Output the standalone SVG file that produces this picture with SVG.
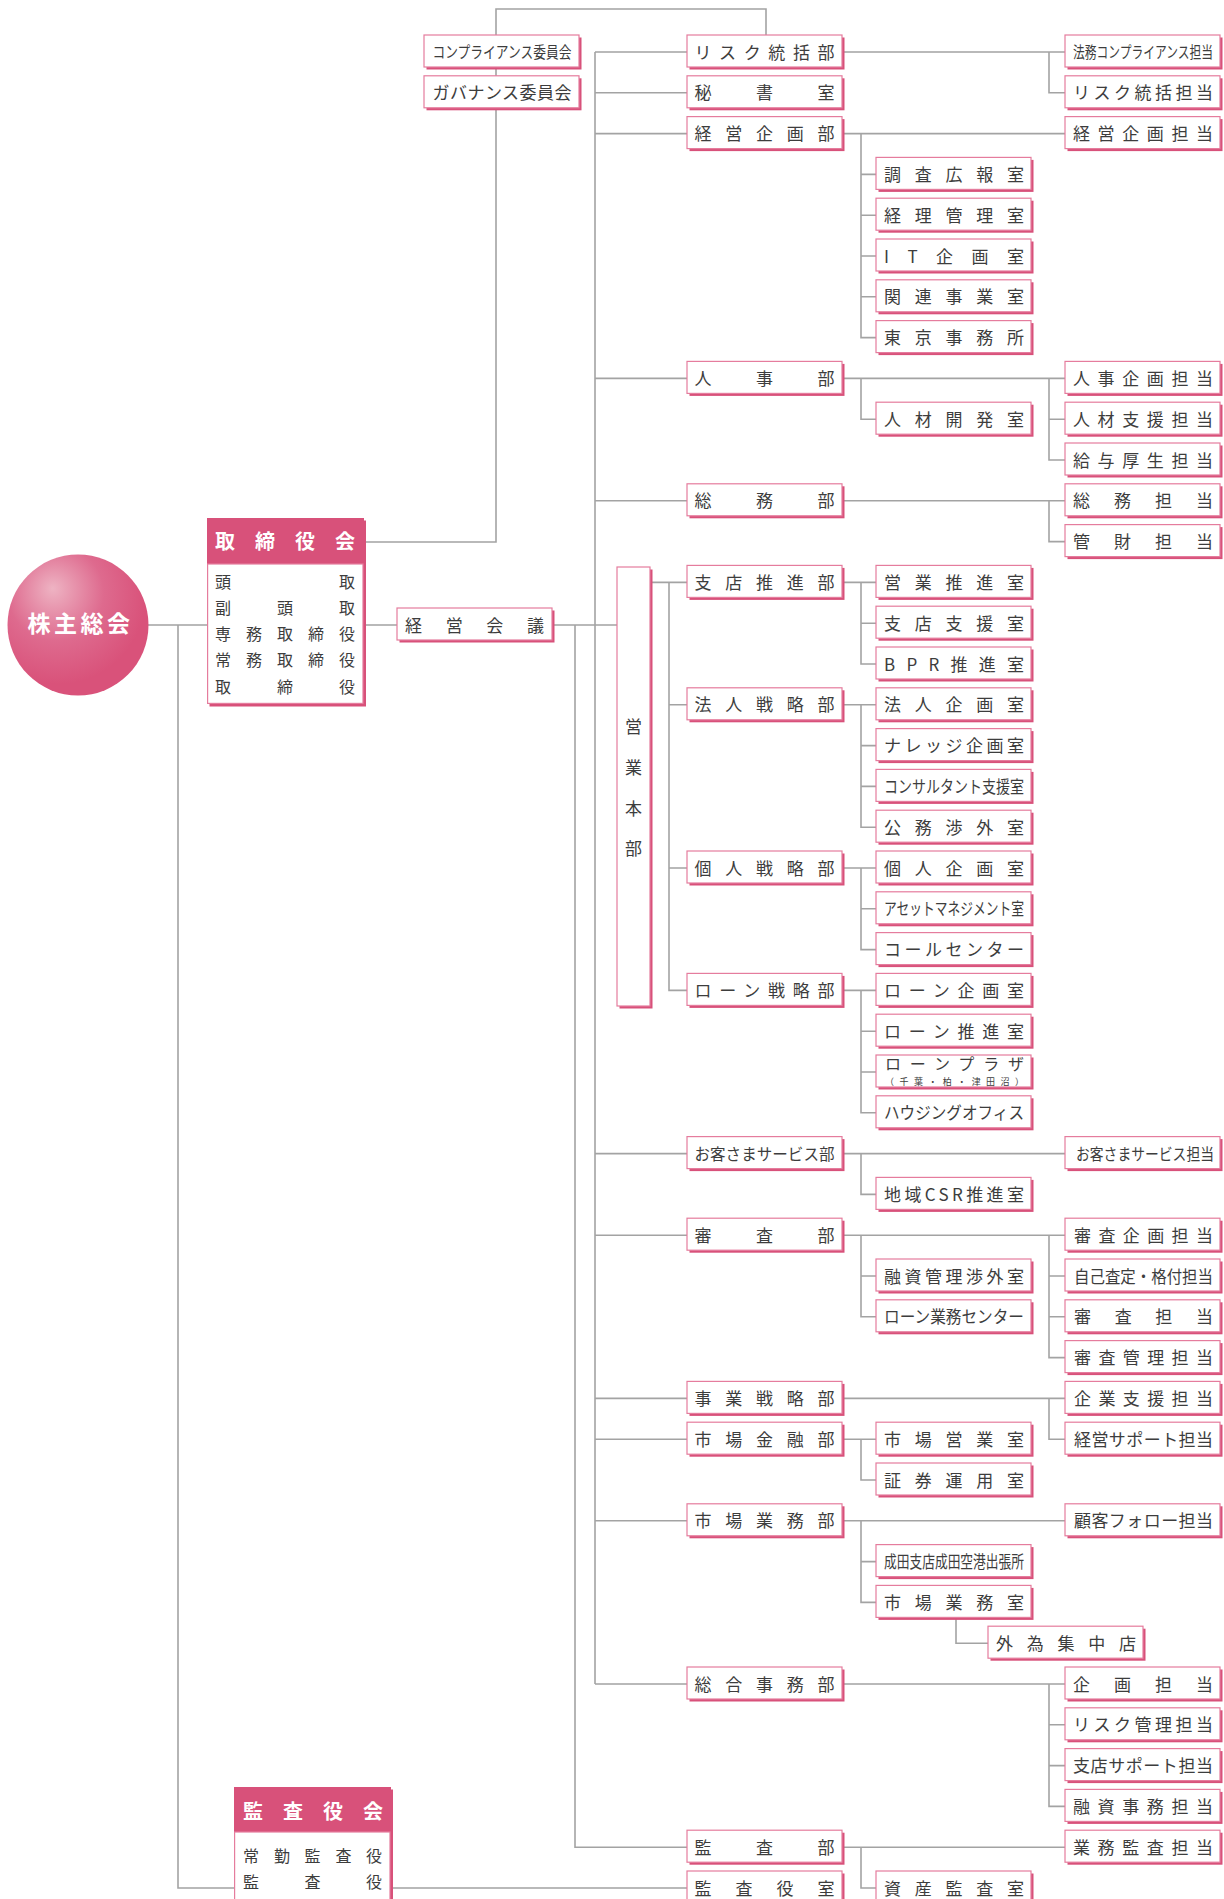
<svg xmlns="http://www.w3.org/2000/svg" xmlns:xlink="http://www.w3.org/1999/xlink" width="1224" height="1899" viewBox="0 0 1224 1899">
<style>
.ln{fill:none;stroke:#a3a3a3;stroke-width:1.6}
.t{font-family:"Noto Sans CJK JP","Noto Sans CJK SC",sans-serif;font-size:17px;fill:#3d3d3d}
.s{font-family:"Noto Sans CJK JP","Noto Sans CJK SC",sans-serif;font-size:16px;fill:#3d3d3d}
.h{font-family:"Noto Sans CJK JP","Noto Sans CJK SC",sans-serif;font-size:20px;font-weight:bold;fill:#fff}
.pk{fill:#d8517a}
.wb{fill:#fff;stroke:#e57c9d;stroke-width:1.2}
</style>
<defs>
<g id="b"><rect x="2.5" y="2.5" width="155" height="32" class="pk"/><rect x="0" y="0" width="155" height="32" class="wb"/></g>
<radialGradient id="gr" cx="0.36" cy="0.3" r="0.62" fx="0.32" fy="0.24">
<stop offset="0" stop-color="#eeb3c3"/>
<stop offset="0.55" stop-color="#de6a8e"/>
<stop offset="1" stop-color="#d9527a"/>
</radialGradient>
</defs>
<rect width="1224" height="1899" fill="#fff"/>
<g id="connectors" class="ln">
<path d="M766,35 V9 H496 V542 H366"/>
<path d="M595,52 V1684"/>
<path d="M595,52 H687 M595,92.8 H687 M595,133.6 H687 M595,378.4 H687 M595,500.8 H687 M595,1153.6 H687 M595,1235.2 H687 M595,1398.4 H687 M595,1439.2 H687 M595,1520.8 H687 M595,1684 H687"/>
<path d="M148,625 H207 M366,625 H397 M554,625 H617"/>
<path d="M178,625 V1888 H687"/>
<path d="M575,625 V1847.2 H687"/>
<path d="M652,582.4 H687 M669,582.4 V990.4 H687 M669,704.8 H687 M669,868 H687"/>
<path d="M844,52 H1065 M1049,52 V92.8 H1065"/>
<path d="M844,133.6 H1065 M861,133.6 V337.6 H876 M861,174.4 H876 M861,215.2 H876 M861,256 H876 M861,296.8 H876"/>
<path d="M844,378.4 H1065 M861,378.4 V419.2 H876 M1049,378.4 V460 H1065 M1049,419.2 H1065"/>
<path d="M844,500.8 H1065 M1049,500.8 V541.6 H1065"/>
<path d="M844,582.4 H876 M861,582.4 V664 H876 M861,623.2 H876"/>
<path d="M844,704.8 H876 M861,704.8 V827.2 H876 M861,745.6 H876 M861,786.4 H876"/>
<path d="M844,868 H876 M861,868 V949.6 H876 M861,908.8 H876"/>
<path d="M844,990.4 H876 M861,990.4 V1112.8 H876 M861,1031.2 H876 M861,1072 H876"/>
<path d="M844,1153.6 H1065 M861,1153.6 V1194.4 H876"/>
<path d="M844,1235.2 H1065 M861,1235.2 V1316.8 H876 M861,1276 H876 M1049,1235.2 V1357.6 H1065 M1049,1276 H1065 M1049,1316.8 H1065"/>
<path d="M844,1398.4 H1065 M1049,1398.4 V1439.2 H1065"/>
<path d="M844,1439.2 H876 M861,1439.2 V1480 H876"/>
<path d="M844,1520.8 H1065 M861,1520.8 V1602.4 H876 M861,1561.6 H876"/>
<path d="M956,1617 V1643.2 H988"/>
<path d="M844,1684 H1065 M1049,1684 V1806.4 H1065 M1049,1724.8 H1065 M1049,1765.6 H1065"/>
<path d="M844,1847.2 H1065 M861,1847.2 V1888 H876"/>
</g>

<g id="n-kabunushi">
<circle cx="78" cy="625" r="70.5" fill="url(#gr)"/>
<text x="39 65.5 92 118.5" y="632" text-anchor="middle" style="font-family:'Noto Sans CJK JP','Noto Sans CJK SC',sans-serif;font-size:23px;font-weight:bold;fill:#fff">株主総会</text>
</g>

<g id="n-torishimariyakukai">
<rect x="209.5" y="520.5" width="156.5" height="186" class="pk"/>
<rect x="207" y="518" width="157" height="46" class="pk"/>
<rect x="207.6" y="564" width="155.4" height="139.4" class="wb"/>
<text class="h" x="225 265 305 345" y="548.6" text-anchor="middle">取締役会</text>
<text class="s" x="223 347" y="588" text-anchor="middle">頭取</text>
<text class="s" x="223 285 347" y="614" text-anchor="middle">副頭取</text>
<text class="s" x="223 254 285 316 347" y="640" text-anchor="middle">専務取締役</text>
<text class="s" x="223 254 285 316 347" y="666" text-anchor="middle">常務取締役</text>
<text class="s" x="223 285 347" y="693" text-anchor="middle">取締役</text>
</g>

<g id="n-kansayakukai">
<rect x="236.5" y="1789.5" width="156.5" height="200" class="pk"/>
<rect x="234" y="1787" width="157" height="45" class="pk"/>
<rect x="234.6" y="1832" width="155.4" height="100" class="wb"/>
<text class="h" x="253 293 333 373" y="1818.6" text-anchor="middle">監査役会</text>
<text class="s" x="251 282 312.5 343.5 374" y="1862" text-anchor="middle">常勤監査役</text>
<text class="s" x="251 312.5 374" y="1888" text-anchor="middle">監査役</text>
</g>

<g id="n-keieikaigi"><use xlink:href="#b" x="397" y="608"/><text class="t" x="405" y="631.5" textLength="139">経営会議</text></g>
<g id="n-compliance"><use xlink:href="#b" x="424" y="35"/><text class="s" x="432.5" y="58" textLength="139" lengthAdjust="spacingAndGlyphs">コンプライアンス委員会</text></g>
<g id="n-governance"><use xlink:href="#b" x="424" y="75.8"/><text class="t" x="432.5" y="99.3" textLength="139">ガバナンス委員会</text></g>

<g id="n-eigyohonbu">
<rect x="619.5" y="569.5" width="33" height="439" class="pk"/>
<rect x="617" y="567" width="33" height="439" class="wb"/>
<text class="t" x="633.5" y="732.5" text-anchor="middle">営</text>
<text class="t" x="633.5" y="773.5" text-anchor="middle">業</text>
<text class="t" x="633.5" y="814.5" text-anchor="middle">本</text>
<text class="t" x="633.5" y="854.5" text-anchor="middle">部</text>
</g>

<g id="d-risk"><use xlink:href="#b" x="687" y="35"/><text class="t" x="694.5" y="58.5" textLength="140">リスク統括部</text></g>
<g id="d-hisho"><use xlink:href="#b" x="687" y="75.8"/><text class="t" x="694.5" y="99.3" textLength="140">秘書室</text></g>
<g id="d-keieikikaku"><use xlink:href="#b" x="687" y="116.6"/><text class="t" x="694.5" y="140.1" textLength="140">経営企画部</text></g>
<g id="d-jinji"><use xlink:href="#b" x="687" y="361.4"/><text class="t" x="694.5" y="384.9" textLength="140">人事部</text></g>
<g id="d-somu"><use xlink:href="#b" x="687" y="483.8"/><text class="t" x="694.5" y="507.3" textLength="140">総務部</text></g>
<g id="d-shitensuishin"><use xlink:href="#b" x="687" y="565.4"/><text class="t" x="694.5" y="588.9" textLength="140">支店推進部</text></g>
<g id="d-hojin"><use xlink:href="#b" x="687" y="687.8"/><text class="t" x="694.5" y="711.3" textLength="140">法人戦略部</text></g>
<g id="d-kojin"><use xlink:href="#b" x="687" y="851"/><text class="t" x="694.5" y="874.5" textLength="140">個人戦略部</text></g>
<g id="d-loan"><use xlink:href="#b" x="687" y="973.4"/><text class="t" x="694.5" y="996.9" textLength="140">ローン戦略部</text></g>
<g id="d-okyakusama"><use xlink:href="#b" x="687" y="1136.6"/><text class="s" x="694.5" y="1159.8" textLength="140" lengthAdjust="spacingAndGlyphs">お客さまサービス部</text></g>
<g id="d-shinsa"><use xlink:href="#b" x="687" y="1218.2"/><text class="t" x="694.5" y="1241.7" textLength="140">審査部</text></g>
<g id="d-jigyo"><use xlink:href="#b" x="687" y="1381.4"/><text class="t" x="694.5" y="1404.9" textLength="140">事業戦略部</text></g>
<g id="d-shijokinyu"><use xlink:href="#b" x="687" y="1422.2"/><text class="t" x="694.5" y="1445.7" textLength="140">市場金融部</text></g>
<g id="d-shijogyomu"><use xlink:href="#b" x="687" y="1503.8"/><text class="t" x="694.5" y="1527.3" textLength="140">市場業務部</text></g>
<g id="d-sogojimu"><use xlink:href="#b" x="687" y="1667"/><text class="t" x="694.5" y="1690.5" textLength="140">総合事務部</text></g>
<g id="d-kansa"><use xlink:href="#b" x="687" y="1830.2"/><text class="t" x="694.5" y="1853.7" textLength="140">監査部</text></g>
<g id="d-kansayaku"><use xlink:href="#b" x="687" y="1871"/><text class="t" x="694.5" y="1894.5" textLength="140">監査役室</text></g>

<g id="m-chosa"><use xlink:href="#b" x="876" y="157.4"/><text class="t" x="884" y="180.9" textLength="140">調査広報室</text></g>
<g id="m-keiri"><use xlink:href="#b" x="876" y="198.2"/><text class="t" x="884" y="221.7" textLength="140">経理管理室</text></g>
<g id="m-it"><use xlink:href="#b" x="876" y="239"/><text class="t" x="884" y="262.5" textLength="140">IT企画室</text></g>
<g id="m-kanren"><use xlink:href="#b" x="876" y="279.8"/><text class="t" x="884" y="303.3" textLength="140">関連事業室</text></g>
<g id="m-tokyo"><use xlink:href="#b" x="876" y="320.6"/><text class="t" x="884" y="344.1" textLength="140">東京事務所</text></g>
<g id="m-jinzai"><use xlink:href="#b" x="876" y="402.2"/><text class="t" x="884" y="425.7" textLength="140">人材開発室</text></g>
<g id="m-eigyosuishin"><use xlink:href="#b" x="876" y="565.4"/><text class="t" x="884" y="588.9" textLength="140">営業推進室</text></g>
<g id="m-shitenshien"><use xlink:href="#b" x="876" y="606.2"/><text class="t" x="884" y="629.7" textLength="140">支店支援室</text></g>
<g id="m-bpr"><use xlink:href="#b" x="876" y="647"/><text class="t" x="884" y="670.5" textLength="140">BPR推進室</text></g>
<g id="m-hojinkikaku"><use xlink:href="#b" x="876" y="687.8"/><text class="t" x="884" y="711.3" textLength="140">法人企画室</text></g>
<g id="m-knowledge"><use xlink:href="#b" x="876" y="728.6"/><text class="t" x="884" y="752.1" textLength="140">ナレッジ企画室</text></g>
<g id="m-consultant"><use xlink:href="#b" x="876" y="769.4"/><text class="t" x="884" y="792.9" textLength="140" lengthAdjust="spacingAndGlyphs">コンサルタント支援室</text></g>
<g id="m-komu"><use xlink:href="#b" x="876" y="810.2"/><text class="t" x="884" y="833.7" textLength="140">公務渉外室</text></g>
<g id="m-kojinkikaku"><use xlink:href="#b" x="876" y="851"/><text class="t" x="884" y="874.5" textLength="140">個人企画室</text></g>
<g id="m-asset"><use xlink:href="#b" x="876" y="891.8"/><text class="t" x="884" y="915.3" textLength="140" lengthAdjust="spacingAndGlyphs">アセットマネジメント室</text></g>
<g id="m-call"><use xlink:href="#b" x="876" y="932.6"/><text class="t" x="884" y="956.1" textLength="140">コールセンター</text></g>
<g id="m-loankikaku"><use xlink:href="#b" x="876" y="973.4"/><text class="t" x="884" y="996.9" textLength="140">ローン企画室</text></g>
<g id="m-loansuishin"><use xlink:href="#b" x="876" y="1014.2"/><text class="t" x="884" y="1037.7" textLength="140">ローン推進室</text></g>
<g id="m-loanplaza"><use xlink:href="#b" x="876" y="1055"/><text class="s" x="885" y="1070" textLength="139">ローンプラザ</text><text x="885" y="1084.5" textLength="139" style="font-family:'Noto Sans CJK JP','Noto Sans CJK SC',sans-serif;font-size:9px;fill:#3d3d3d">（千葉・柏・津田沼）</text></g>
<g id="m-housing"><use xlink:href="#b" x="876" y="1095.8"/><text class="t" x="884" y="1119.3" textLength="140" lengthAdjust="spacingAndGlyphs">ハウジングオフィス</text></g>
<g id="m-csr"><use xlink:href="#b" x="876" y="1177.4"/><text class="t" x="884" y="1200.9" textLength="140">地域CSR推進室</text></g>
<g id="m-yushikanri"><use xlink:href="#b" x="876" y="1259"/><text class="t" x="884" y="1282.5" textLength="140">融資管理渉外室</text></g>
<g id="m-loangyomu"><use xlink:href="#b" x="876" y="1299.8"/><text class="t" x="884" y="1323.3" textLength="140" lengthAdjust="spacingAndGlyphs">ローン業務センター</text></g>
<g id="m-shijoeigyo"><use xlink:href="#b" x="876" y="1422.2"/><text class="t" x="884" y="1445.7" textLength="140">市場営業室</text></g>
<g id="m-shoken"><use xlink:href="#b" x="876" y="1463"/><text class="t" x="884" y="1486.5" textLength="140">証券運用室</text></g>
<g id="m-narita"><use xlink:href="#b" x="876" y="1544.6"/><text class="t" x="884" y="1568.1" textLength="140" lengthAdjust="spacingAndGlyphs">成田支店成田空港出張所</text></g>
<g id="m-shijogyomushitsu"><use xlink:href="#b" x="876" y="1585.4"/><text class="t" x="884" y="1608.9" textLength="140">市場業務室</text></g>
<g id="m-shisankansa"><use xlink:href="#b" x="876" y="1871"/><text class="t" x="884" y="1894.5" textLength="140">資産監査室</text></g>

<g id="f-gaitame"><use xlink:href="#b" x="988" y="1626.2"/><text class="t" x="996" y="1649.7" textLength="140">外為集中店</text></g>

<g id="r-homu"><use xlink:href="#b" x="1065" y="35"/><text class="s" x="1073" y="58" textLength="140" lengthAdjust="spacingAndGlyphs">法務コンプライアンス担当</text></g>
<g id="r-risk"><use xlink:href="#b" x="1065" y="75.8"/><text class="t" x="1073" y="99.3" textLength="140">リスク統括担当</text></g>
<g id="r-keiei"><use xlink:href="#b" x="1065" y="116.6"/><text class="t" x="1073" y="140.1" textLength="140">経営企画担当</text></g>
<g id="r-jinjikikaku"><use xlink:href="#b" x="1065" y="361.4"/><text class="t" x="1073" y="384.9" textLength="140">人事企画担当</text></g>
<g id="r-jinzaishien"><use xlink:href="#b" x="1065" y="402.2"/><text class="t" x="1073" y="425.7" textLength="140">人材支援担当</text></g>
<g id="r-kyuyo"><use xlink:href="#b" x="1065" y="443"/><text class="t" x="1073" y="466.5" textLength="140">給与厚生担当</text></g>
<g id="r-somu"><use xlink:href="#b" x="1065" y="483.8"/><text class="t" x="1073" y="507.3" textLength="140">総務担当</text></g>
<g id="r-kanzai"><use xlink:href="#b" x="1065" y="524.6"/><text class="t" x="1073" y="548.1" textLength="140">管財担当</text></g>
<g id="r-okyakusama"><use xlink:href="#b" x="1065" y="1136.6"/><text class="s" x="1076" y="1159.8" textLength="138" lengthAdjust="spacingAndGlyphs">お客さまサービス担当</text></g>
<g id="r-shinsakikaku"><use xlink:href="#b" x="1065" y="1218.2"/><text class="t" x="1074" y="1241.7" textLength="139">審査企画担当</text></g>
<g id="r-jiko"><use xlink:href="#b" x="1065" y="1259"/><text class="t" x="1074" y="1282.5" textLength="139" lengthAdjust="spacingAndGlyphs">自己査定・格付担当</text></g>
<g id="r-shinsa"><use xlink:href="#b" x="1065" y="1299.8"/><text class="t" x="1074" y="1323.3" textLength="139">審査担当</text></g>
<g id="r-shinsakanri"><use xlink:href="#b" x="1065" y="1340.6"/><text class="t" x="1074" y="1364.1" textLength="139">審査管理担当</text></g>
<g id="r-kigyoshien"><use xlink:href="#b" x="1065" y="1381.4"/><text class="t" x="1074" y="1404.9" textLength="139">企業支援担当</text></g>
<g id="r-keieisupport"><use xlink:href="#b" x="1065" y="1422.2"/><text class="t" x="1074" y="1445.7" textLength="139">経営サポート担当</text></g>
<g id="r-kokyaku"><use xlink:href="#b" x="1065" y="1503.8"/><text class="t" x="1074" y="1527.3" textLength="139">顧客フォロー担当</text></g>
<g id="r-kikaku"><use xlink:href="#b" x="1065" y="1667"/><text class="t" x="1073" y="1690.5" textLength="140">企画担当</text></g>
<g id="r-riskkanri"><use xlink:href="#b" x="1065" y="1707.8"/><text class="t" x="1073" y="1731.3" textLength="140">リスク管理担当</text></g>
<g id="r-shitensupport"><use xlink:href="#b" x="1065" y="1748.6"/><text class="t" x="1073" y="1772.1" textLength="140">支店サポート担当</text></g>
<g id="r-yushijimu"><use xlink:href="#b" x="1065" y="1789.4"/><text class="t" x="1073" y="1812.9" textLength="140">融資事務担当</text></g>
<g id="r-gyomukansa"><use xlink:href="#b" x="1065" y="1830.2"/><text class="t" x="1073" y="1853.7" textLength="140">業務監査担当</text></g>
</svg>
